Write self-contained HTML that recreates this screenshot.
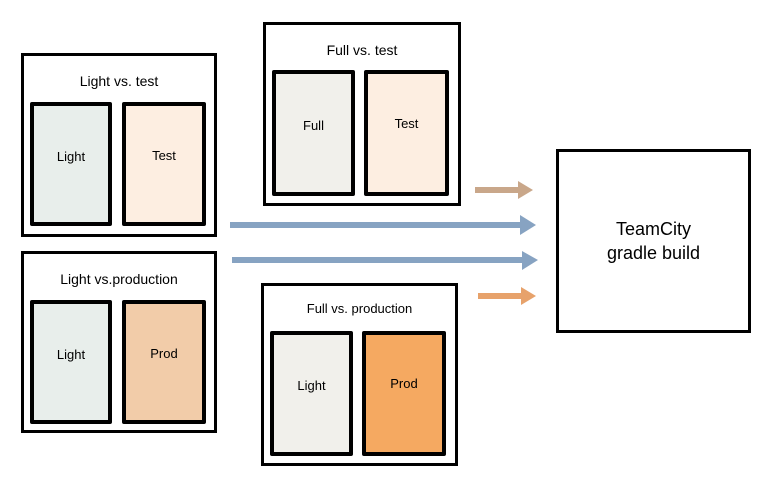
<!DOCTYPE html>
<html><head><style>
body{margin:0;background:#fff;width:773px;height:482px;position:relative;overflow:hidden;font-family:"Liberation Sans",sans-serif;}
.b{position:absolute;border:3px solid #000;box-sizing:border-box;background:#fff;}
.t{position:absolute;font-size:14px;text-align:center;color:#000;}
.i{position:absolute;border:4px solid #000;box-sizing:border-box;display:flex;align-items:center;justify-content:center;font-size:13px;border-radius:2px;padding-bottom:16px;}
</style></head><body>
<div class="b" style="left:21px;top:53px;width:196px;height:184px"></div>
<div class="t" style="left:21px;top:73px;width:196px">Light vs. test</div>
<div class="i" style="left:30px;top:102px;width:82px;height:124px;background:#e8eeeb">Light</div>
<div class="i" style="left:122px;top:102px;width:84px;height:124px;background:#fdeee1;padding-bottom:18px">Test</div>

<div class="b" style="left:21px;top:251px;width:196px;height:182px"></div>
<div class="t" style="left:21px;top:271px;width:196px">Light vs.production</div>
<div class="i" style="left:30px;top:300px;width:82px;height:124px;background:#e8eeeb">Light</div>
<div class="i" style="left:122px;top:300px;width:84px;height:124px;background:#f2cca9;padding-bottom:18px">Prod</div>

<div class="b" style="left:263px;top:22px;width:198px;height:184px"></div>
<div class="t" style="left:263px;top:42px;width:198px">Full vs. test</div>
<div class="i" style="left:272px;top:70px;width:83px;height:126px;background:#f1f0eb">Full</div>
<div class="i" style="left:364px;top:70px;width:85px;height:126px;background:#fdeee1;padding-bottom:20px">Test</div>

<div class="b" style="left:261px;top:283px;width:197px;height:183px"></div>
<div class="t" style="left:261px;top:301px;width:197px;font-size:13px">Full vs. production</div>
<div class="i" style="left:270px;top:331px;width:83px;height:125px;background:#f1f0eb">Light</div>
<div class="i" style="left:362px;top:331px;width:84px;height:125px;background:#f5a961;padding-bottom:20px">Prod</div>

<div class="b" style="left:556px;top:149px;width:195px;height:184px;display:flex;align-items:center;justify-content:center;text-align:center;font-size:18px;line-height:24px">TeamCity<br>gradle build</div>

<svg style="position:absolute;left:0;top:0" width="773" height="482">
<g fill="#87a3c2">
<rect x="475" y="187" width="45" height="6" fill="#c9a78a"/><polygon points="518,181 533,190 518,199" fill="#c9a78a"/>
<rect x="230" y="222" width="292" height="6"/><polygon points="520,215 536,225 520,235"/>
<rect x="232" y="257" width="292" height="6"/><polygon points="522,251 538,260 522,270"/>
<rect x="478" y="293" width="45" height="6" fill="#e7a26b"/><polygon points="521,287 536,296 521,305" fill="#e7a26b"/>
</g></svg>
</body></html>
